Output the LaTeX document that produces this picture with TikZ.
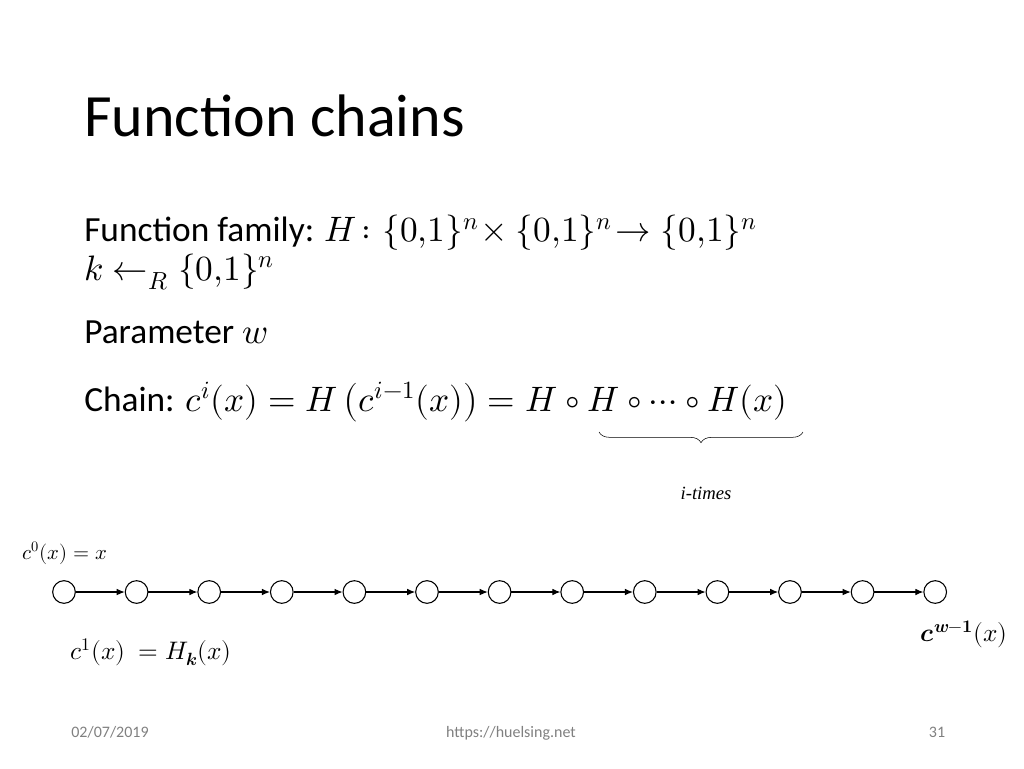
\documentclass[tikz,border=0pt]{standalone}
\usepackage{fontspec}
\usepackage{amsmath}
\usepackage{unicode-math}
\setmainfont{Carlito}
\setmathfont{Latin Modern Math}
\newfontfamily\serifit{Liberation Serif}
\usetikzlibrary{arrows.meta,decorations.pathreplacing}
\begin{document}
\begin{tikzpicture}[x=0.75pt,y=-0.75pt,
  cnode/.style={circle,draw,thick,minimum size=17pt,inner sep=0pt},
  arr/.style={-{Latex[length=6pt,width=5pt]},thick},
  body/.style={anchor=west,inner sep=0pt,font=\fontsize{26.5}{30}\selectfont},
  foot/.style={anchor=base,font=\fontsize{12}{14}\selectfont,text=gray}]
\useasboundingbox (0,0) rectangle (1024,768);
\node[anchor=west,inner sep=0pt,font=\fontsize{45}{50}\selectfont] (title) at (84,116) {Function chains};
\node[body] (t1) at (84,233) {Function family: $H\colon\{0{,}1\}^n\!\times\{0{,}1\}^n\!\rightarrow\{0{,}1\}^n$};
\node[body] (t2) at (84,272) {$k\leftarrow_R\{0{,}1\}^n$};
\node[body] (t3) at (84,332) {Parameter $w$};
\node[body] (t4) at (84,402) {Chain: $c^i(x)=H\left(c^{i-1}(x)\right)=H\circ H\circ\cdots\circ H(x)$};
\coordinate (b1) at (599,432);
\coordinate (b2) at (803,432);
\draw[thin,decorate,decoration={brace,mirror,amplitude=8pt}] (b1) -- (b2);
\node[font=\serifit\itshape\fontsize{14}{16}\selectfont] (it) at (706,493) {i-times};
\node[anchor=west,inner sep=0pt,font=\fontsize{15.5}{18}\selectfont] (c0) at (22,553) {$c^0(x)=x$};
\foreach \i in {0,...,12} {
  \node[cnode] (n\i) at ({64+72.6*\i},592) {};
}
\foreach \i [evaluate=\i as \j using int(\i+1)] in {0,...,11} {
  \draw[arr] (n\i) -- (n\j);
}
\node[anchor=west,inner sep=0pt,font=\fontsize{19}{22}\selectfont] (c1) at (70,652) {$c^1(x)\ =H_{\symbfit{k}}(x)$};
\node[anchor=east,inner sep=0pt,font=\fontsize{19}{22}\selectfont] (cw) at (1008,634) {$\symbfit{c}^{\symbfit{w}\symbf{-1}}(x)$};
\node[foot] (f1) at (110,737) {02/07/2019};
\node[foot] (f2) at (511,737) {https://huelsing.net};
\node[foot] (f3) at (937,737) {31};
\end{tikzpicture}
\end{document}
